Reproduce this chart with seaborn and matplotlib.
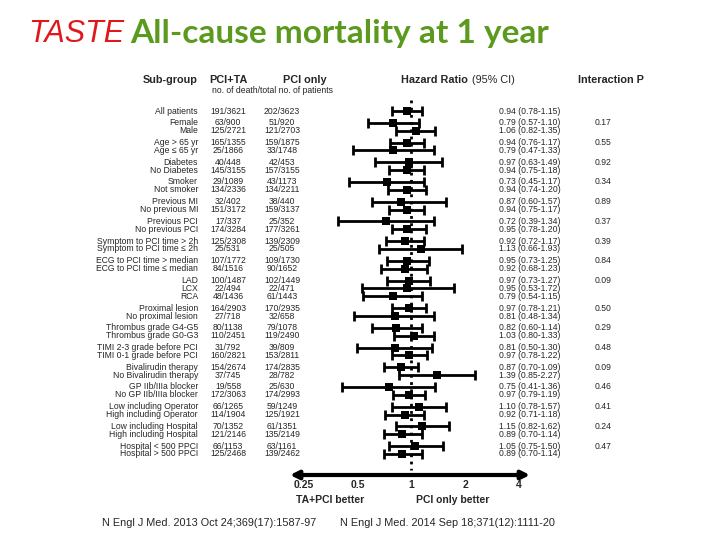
import numpy as np
import pandas as pd
import matplotlib
matplotlib.use('Agg')
import matplotlib.pyplot as plt
import matplotlib.transforms as mtransforms
import seaborn as sns

# sub-groups, in order top to bottom
labels = ['All patients',
          'Female', 'Male',
          'Age > 65 yr', 'Age ≤ 65 yr',
          'Diabetes', 'No Diabetes',
          'Smoker', 'Not smoker',
          'Previous MI', 'No previous MI',
          'Previous PCI', 'No previous PCI',
          'Symptom to PCI time > 2h', 'Symptom to PCI time ≤ 2h',
          'ECG to PCI time > median', 'ECG to PCI time ≤ median',
          'LAD', 'LCX', 'RCA',
          'Proximal lesion', 'No proximal lesion',
          'Thrombus grade G4-G5', 'Thrombus grade G0-G3',
          'TIMI 2-3 grade before PCI', 'TIMI 0-1 grade before PCI',
          'Bivalirudin therapy', 'No Bivalirudin therapy',
          'GP IIb/IIIa blocker', 'No GP IIb/IIIa blocker',
          'Low including Operator', 'High including Operator',
          'Low including Hospital', 'High including Hospital',
          'Hospital < 500 PPCI', 'Hospital > 500 PPCI']
group_id = [0, 1, 1, 2, 2, 3, 3, 4, 4, 5, 5, 6, 6, 7, 7, 8, 8, 9, 9, 9,
            10, 10, 11, 11, 12, 12, 13, 13, 14, 14, 15, 15, 16, 16, 17, 17]

pci_ta = ['191/3621', '63/900', '125/2721', '165/1355', '25/1866', '40/448', '145/3155',
          '29/1089', '134/2336', '32/402', '151/3172', '17/337', '174/3284',
          '125/2308', '25/531', '107/1772', '84/1516', '100/1487', '22/494', '48/1436',
          '164/2903', '27/718', '80/1138', '110/2451', '31/792', '160/2821',
          '154/2674', '37/745', '19/558', '172/3063', '66/1265', '114/1904',
          '70/1352', '121/2146', '66/1153', '125/2468']
pci_only = ['202/3623', '51/920', '121/2703', '159/1875', '33/1748', '42/453', '157/3155',
            '43/1173', '134/2211', '38/440', '159/3137', '25/352', '177/3261',
            '139/2309', '25/505', '109/1730', '90/1652', '102/1449', '22/471', '61/1443',
            '170/2935', '32/658', '79/1078', '119/2490', '39/809', '153/2811',
            '174/2835', '28/782', '25/630', '174/2993', '59/1249', '125/1921',
            '61/1351', '135/2149', '63/1161', '139/2462']

hr = [0.94, 0.79, 1.06, 0.94, 0.79, 0.97, 0.94, 0.73, 0.94, 0.87, 0.94, 0.72, 0.95,
      0.92, 1.13, 0.95, 0.92, 0.97, 0.95, 0.79, 0.97, 0.81, 0.82, 1.03, 0.81, 0.97,
      0.87, 1.39, 0.75, 0.97, 1.10, 0.92, 1.15, 0.89, 1.05, 0.89]
ci_lo = [0.78, 0.57, 0.82, 0.76, 0.47, 0.63, 0.75, 0.45, 0.74, 0.60, 0.75, 0.39, 0.78,
         0.72, 0.66, 0.73, 0.68, 0.73, 0.53, 0.54, 0.78, 0.48, 0.60, 0.80, 0.50, 0.78,
         0.70, 0.85, 0.41, 0.79, 0.78, 0.71, 0.82, 0.70, 0.75, 0.70]
ci_hi = [1.15, 1.10, 1.35, 1.17, 1.33, 1.49, 1.18, 1.17, 1.20, 1.57, 1.17, 1.34, 1.20,
         1.17, 1.93, 1.25, 1.23, 1.27, 1.72, 1.15, 1.21, 1.34, 1.14, 1.33, 1.30, 1.22,
         1.09, 2.27, 1.36, 1.19, 1.57, 1.18, 1.62, 1.14, 1.50, 1.14]

# interaction P, one per group (group 0 has none)
p_interaction = ['', '0.17', '0.55', '0.92', '0.34', '0.89', '0.37', '0.39', '0.84',
                 '0.09', '0.50', '0.29', '0.48', '0.09', '0.46', '0.41', '0.24', '0.47']

x_ticks = [0.25, 0.5, 1, 2, 4]

# row positions: 1 unit inside a group, 1.5 between groups
ypos = []
y = 0.0
for i, g in enumerate(group_id):
    if i > 0:
        y += 1.0 if g == group_id[i - 1] else 1.5
    ypos.append(y)

df = pd.DataFrame({'label': labels, 'hr': hr, 'lo': ci_lo, 'hi': ci_hi, 'y': ypos})

sns.set_style('white')
plt.rcParams['font.family'] = ['Liberation Sans', 'DejaVu Sans']

fig = plt.figure(figsize=(7.2, 5.4), dpi=100)
ax = fig.add_axes([290 / 720, 1 - 475 / 540, 240 / 720, 405 / 540])

ax.set_xscale('log', base=2)
ax.set_xlim(0.21, 4.6)
px = 7.885
ymax = df['y'].max() + 21 / px
ax.set_ylim(ymax, -41 / px)

# dotted line of no effect
ax.vlines(1, -11 / px, ymax - 5 / px, colors='black', linestyles=(0, (1, 1.6)), lw=2)

ax.errorbar(df['hr'], df['y'],
            xerr=[df['hr'] - df['lo'], df['hi'] - df['hr']],
            fmt='none', ecolor='black', elinewidth=2, capsize=3.5, capthick=2)
sns.scatterplot(data=df, x='hr', y='y', marker='s', s=40, color='black',
                edgecolor='black', linewidth=0, ax=ax, zorder=3)

for s in ax.spines.values():
    s.set_visible(False)
ax.set_xlabel('')
ax.set_ylabel('')
ax.set_yticks([])
ax.set_xticks(x_ticks)
ax.set_xticklabels(['0.25', '0.5', '1', '2', '4'], fontweight='bold', fontsize=7.5)
ax.xaxis.set_minor_locator(matplotlib.ticker.NullLocator())
ax.tick_params(axis='x', length=0, pad=3.5)

# axis as a double arrow
ax.annotate('', xy=(0.0, 0.0), xytext=(0.5, 0.0), xycoords='axes fraction',
            arrowprops=dict(arrowstyle='-|>', lw=3, color='black', mutation_scale=12,
                            shrinkA=0, shrinkB=0))
ax.annotate('', xy=(1.0, 0.0), xytext=(0.5, 0.0), xycoords='axes fraction',
            arrowprops=dict(arrowstyle='-|>', lw=3, color='black', mutation_scale=12,
                            shrinkA=0, shrinkB=0))

tr = mtransforms.blended_transform_factory(fig.transFigure, ax.transData)
fs = 6.2

for i, row in df.iterrows():
    fig.text(198 / 720, row['y'], row['label'], transform=tr, ha='right', va='center', fontsize=fs)
    fig.text(228 / 720, row['y'], pci_ta[i], transform=tr, ha='center', va='center', fontsize=fs)
    fig.text(282 / 720, row['y'], pci_only[i], transform=tr, ha='center', va='center', fontsize=fs)
    fig.text(499 / 720, row['y'], f"{row['hr']:.2f} ({row['lo']:.2f}-{row['hi']:.2f})",
             transform=tr, ha='left', va='center', fontsize=fs)

for g, p in enumerate(p_interaction):
    if p:
        first = df['y'][group_id.index(g)]
        fig.text(595 / 720, first, p, transform=tr, ha='left', va='center', fontsize=fs)

# column headers
hy = (80 - 111) / px
fig.text(170 / 720, hy, 'Sub-group', transform=tr, ha='center', va='center',
         fontsize=7.8, fontweight='bold')
fig.text(228 / 720, hy, 'PCI+TA', transform=tr, ha='center', va='center',
         fontsize=7.8, fontweight='bold')
fig.text(305 / 720, hy, 'PCI only', transform=tr, ha='center', va='center',
         fontsize=7.8, fontweight='bold')
fig.text(212 / 720, (90 - 111) / px, 'no. of death/total no. of patients', transform=tr,
         ha='left', va='center', fontsize=6.2)
fig.text(401 / 720, hy, 'Hazard Ratio', transform=tr, ha='left', va='center',
         fontsize=7.8, fontweight='bold')
fig.text(472 / 720, hy, '(95% CI)', transform=tr, ha='left', va='center', fontsize=7.8)
fig.text(578 / 720, hy, 'Interaction P', transform=tr, ha='left', va='center',
         fontsize=7.8, fontweight='bold')

# favour labels
fig.text(330 / 720, 1 - 500 / 540, 'TA+PCI better', ha='center', va='center',
         fontsize=7.5, fontweight='bold')
fig.text(453 / 720, 1 - 500 / 540, 'PCI only better', ha='center', va='center',
         fontsize=7.5, fontweight='bold')

# title
fig.text(28 / 720, 1 - 34 / 540, 'TASTE', ha='left', va='center', fontsize=22,
         style='italic', color='#E0181B')
fig.text(130 / 720, 1 - 33 / 540, 'All-cause mortality at 1 year', ha='left', va='center',
         fontsize=24, fontweight='bold', color='#5B9A1F', family=['Lato', 'DejaVu Sans'])

# references
fig.text(102 / 720, 1 - 523 / 540, 'N Engl J Med. 2013 Oct 24;369(17):1587-97', ha='left',
         va='center', fontsize=7.8)
fig.text(340 / 720, 1 - 523 / 540, 'N Engl J Med. 2014 Sep 18;371(12):1111-20', ha='left',
         va='center', fontsize=7.8)

fig.savefig('out.png', dpi=100)
